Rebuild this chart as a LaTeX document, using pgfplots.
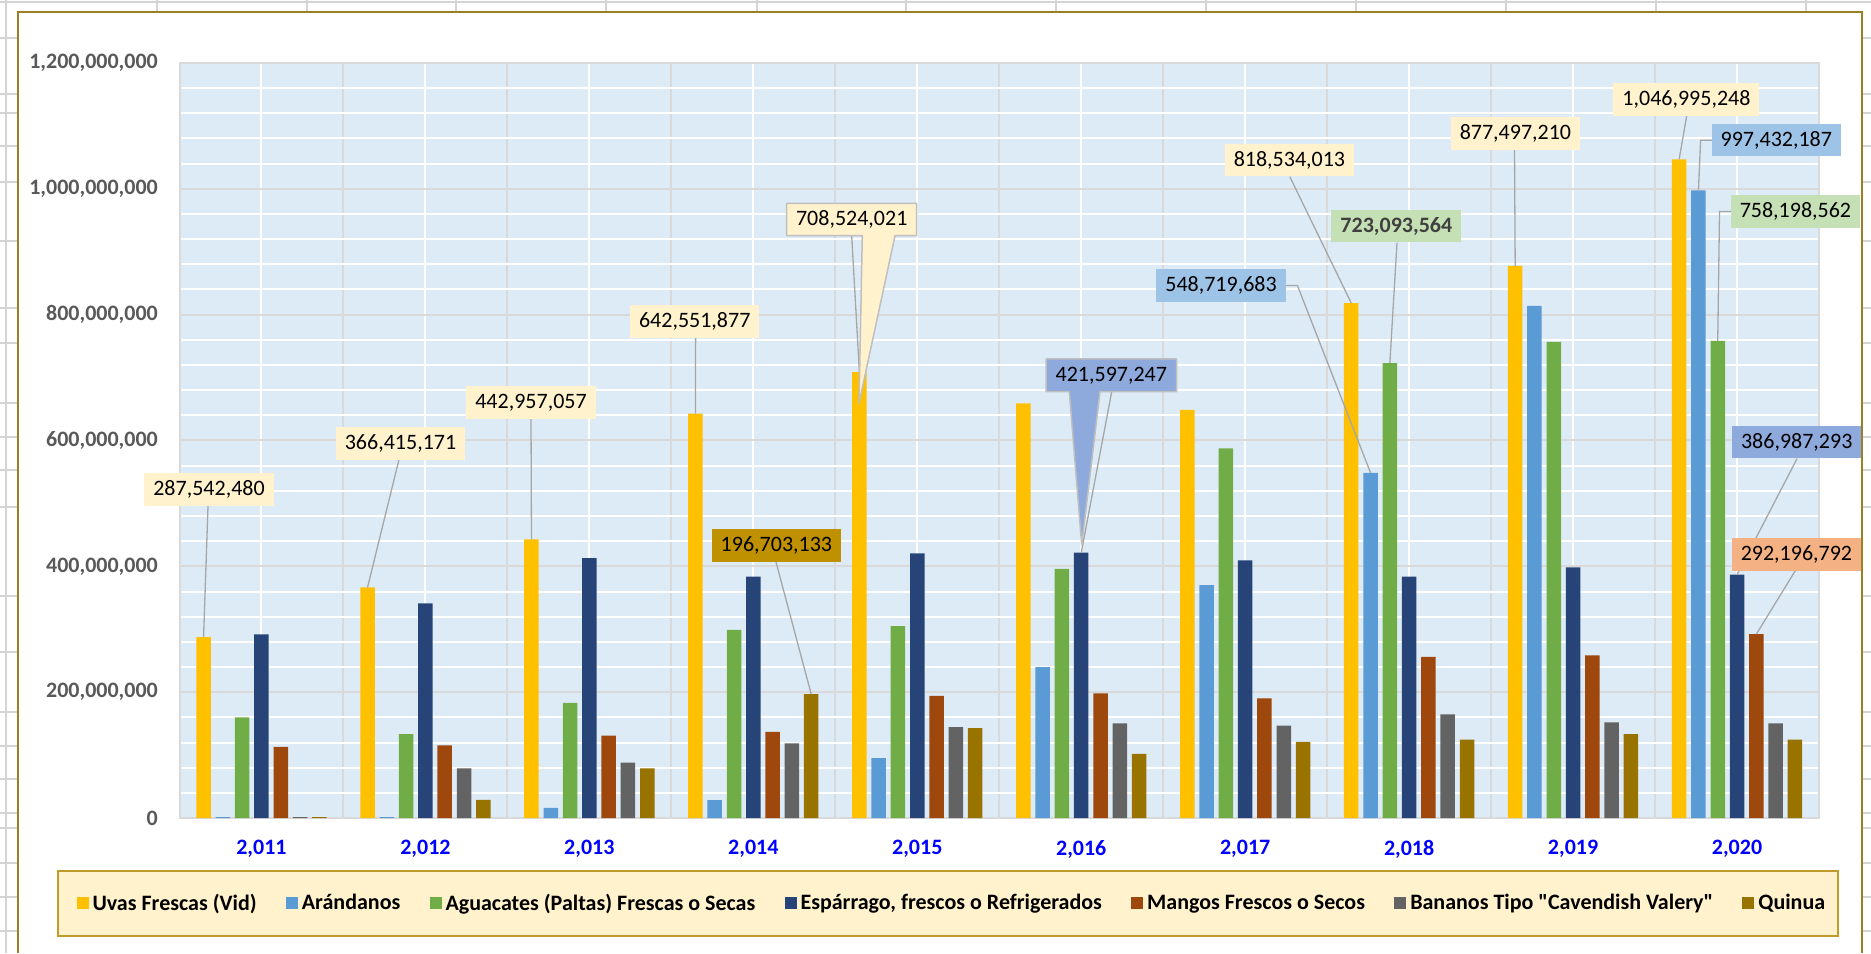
\documentclass[border=0pt]{standalone}
\usepackage{fontspec}
\setmainfont{Carlito}[Ligatures=TeXOff]
\usepackage{pgfplots}
\pgfplotsset{compat=1.18}

\definecolor{cUvas}{HTML}{FFC000}
\definecolor{cAran}{HTML}{5B9BD5}
\definecolor{cAgua}{HTML}{70AD47}
\definecolor{cEspa}{HTML}{264478}
\definecolor{cMang}{HTML}{9E480E}
\definecolor{cBana}{HTML}{636363}
\definecolor{cQuin}{HTML}{997300}
\definecolor{gridgray}{HTML}{D9D9D9}
\definecolor{plotbg}{HTML}{DDEBF7}
\definecolor{ticktext}{HTML}{595959}
\definecolor{tickblue}{HTML}{0000FF}
\definecolor{cellgray}{HTML}{D4D4D4}
\definecolor{chartborder}{HTML}{9C7F22}
\definecolor{legborder}{HTML}{C09A2A}
\definecolor{cream}{HTML}{FFF2CC}
\definecolor{lblgold}{HTML}{BF9000}
\definecolor{lblnavy}{HTML}{8EA9DB}
\definecolor{lblblue}{HTML}{9DC3E6}
\definecolor{lblgreen}{HTML}{C5E0B4}
\definecolor{lblorange}{HTML}{F4B183}
\definecolor{leader}{HTML}{A6A6A6}
\definecolor{callborder}{HTML}{BFBFBF}

\newcommand\lbl{\fontsize{11}{13}\selectfont}

\begin{document}
\begin{tikzpicture}
\path[use as bounding box] (0,0) rectangle (935.5pt,476.5pt);

% sheet and chart frame, in image pixels (y down)
\begin{scope}[x=0.5pt,y=-0.5pt,yshift=476.5pt]
  \fill[white] (0,0) rectangle (1871,953);
  \draw[cellgray, line width=0.8pt] (0,2) -- (1871,2);
  \draw[cellgray, line width=0.8pt] (6,0) -- (6,953);
  \foreach \x in {157,307,456,606,757,906,1056,1206,1356,1506,1656,1806}
    \draw[cellgray, line width=0.8pt] (\x,0) -- (\x,12);
  \foreach \y in {38,94,113,146,182,241,308,343,403,437,470,507,596,652,712,746,779,813,828,863,897,931} {
    \draw[cellgray, line width=0.8pt] (0,\y) -- (18,\y);
    \draw[cellgray, line width=0.8pt] (1862,\y) -- (1871,\y);
  }
  \draw[chartborder, line width=1.1pt] (18,953) -- (18,12) -- (1862,12) -- (1862,953);
  \draw[legborder, fill=cream, line width=1.1pt] (58,871) rectangle (1838,936);
\end{scope}

\begin{axis}[
    at={(89.75pt,67.5pt)}, anchor=south west,
    scale only axis,
    width=819.75pt, height=377.5pt,
    ybar=2.4pt, bar width=7.25pt,
    xmin=-0.5, xmax=9.5,
    ymin=0, ymax=1.2e9,
    scaled y ticks=false,
    xtick={0,...,9},
    xticklabels={{2,011},{2,012},{2,013},{2,014},{2,015},{2,016},{2,017},{2,018},{2,019},{2,020}},
    minor xtick={-0.5,0.5,1.5,2.5,3.5,4.5,5.5,6.5,7.5,8.5,9.5},
    ytick={0,200000000,400000000,600000000,800000000,1000000000,1200000000},
    yticklabels={{0},{200,000,000},{400,000,000},{600,000,000},{800,000,000},{1,000,000,000},{1,200,000,000}},
    minor y tick num=4,
    major tick length=0pt, minor tick length=0pt,
    grid=both,
    major x grid style={white, line width=1pt},
    minor x grid style={gridgray, line width=1pt},
    major y grid style={gridgray, line width=1pt},
    minor y grid style={white, line width=1pt},
    axis line style={gridgray, line width=1pt},
    axis background/.style={fill=plotbg},
    xticklabel style={font=\lbl\bfseries, text=tickblue, yshift=-7.5pt},
    yticklabel style={font=\lbl\bfseries, text=ticktext, xshift=-7.3pt},
    clip=false,
    legend columns=7,
    legend style={draw=none, fill=none, at={(0.4717,-0.1132)}, anchor=center,
      font=\lbl\bfseries,
      /tikz/every even column/.append style={column sep=12.6pt}},
    sq/.style={legend image code/.code={\fill[##1, draw=none] (0pt,-3pt) rectangle (6pt,3pt);}},
]
\addplot[fill=cUvas, draw=none, sq] coordinates {(0,287542480) (1,366415171) (2,442957057) (3,642551877) (4,708524021) (5,659000000) (6,648500000) (7,818534013) (8,877497210) (9,1046995248)};
\addlegendentry{Uvas Frescas (Vid)}
\addplot[fill=cAran, draw=none, sq] coordinates {(0,1500000) (1,1500000) (2,16000000) (3,28600000) (4,95000000) (5,240000000) (6,370000000) (7,548719683) (8,813800000) (9,997432187)};
\addlegendentry{Arándanos}
\addplot[fill=cAgua, draw=none, sq] coordinates {(0,160000000) (1,133500000) (2,183000000) (3,299000000) (4,305000000) (5,396000000) (6,587600000) (7,723093564) (8,756600000) (9,758198562)};
\addlegendentry{Aguacates (Paltas) Frescas o Secas}
\addplot[fill=cEspa, draw=none, sq] coordinates {(0,292000000) (1,341000000) (2,413000000) (3,383500000) (4,420700000) (5,421597247) (6,409600000) (7,383500000) (8,398400000) (9,386987293)};
\addlegendentry{Espárrago, frescos o Refrigerados}
\addplot[fill=cMang, draw=none, sq] coordinates {(0,113000000) (1,115500000) (2,131000000) (3,137000000) (4,194000000) (5,198000000) (6,190000000) (7,256000000) (8,258500000) (9,292196792)};
\addlegendentry{Mangos Frescos o Secos}
\addplot[fill=cBana, draw=none, sq] coordinates {(0,1500000) (1,79000000) (2,88000000) (3,118700000) (4,144600000) (5,150500000) (6,146700000) (7,164800000) (8,152000000) (9,150500000)};
\addlegendentry{Bananos Tipo "Cavendish Valery"}
\addplot[fill=cQuin, draw=none, sq] coordinates {(0,1500000) (1,29000000) (2,79000000) (3,196703133) (4,143000000) (5,102000000) (6,120800000) (7,124500000) (8,133500000) (9,124500000)};
\addlegendentry{Quinua}

% bar tops for the callouts (bar pitch 9.65pt)
\coordinate (u0) at ([xshift=-28.95pt]axis cs:0,287542480);
\coordinate (u1) at ([xshift=-28.95pt]axis cs:1,366415171);
\coordinate (u2) at ([xshift=-28.95pt]axis cs:2,442957057);
\coordinate (u3) at ([xshift=-28.95pt]axis cs:3,642551877);
\coordinate (u4) at ([xshift=-28.95pt]axis cs:4,708524021);
\coordinate (q3) at ([xshift=28.95pt]axis cs:3,196703133);
\coordinate (e5) at (axis cs:5,421597247);
\coordinate (u7) at ([xshift=-28.95pt]axis cs:7,818534013);
\coordinate (a7) at ([xshift=-19.3pt]axis cs:7,548719683);
\coordinate (g7) at ([xshift=-9.65pt]axis cs:7,723093564);
\coordinate (u8) at ([xshift=-28.95pt]axis cs:8,877497210);
\coordinate (u9) at ([xshift=-28.95pt]axis cs:9,1046995248);
\coordinate (a9) at ([xshift=-19.3pt]axis cs:9,997432187);
\coordinate (g9) at ([xshift=-9.65pt]axis cs:9,758198562);
\coordinate (e9) at (axis cs:9,386987293);
\coordinate (m9) at ([xshift=9.65pt]axis cs:9,292196792);
\end{axis}

% data callouts, in image pixels (y down)
\begin{scope}[x=0.5pt,y=-0.5pt,yshift=476.5pt,
    lab/.style={inner xsep=4.5pt, inner ysep=0pt, minimum height=16.2pt, font=\lbl, text=black},
    ld/.style={leader, line width=0.65pt}]
  % leader lines
  \draw[ld] (208,506) -- (u0);
  \draw[ld] (399,459.5) -- (u1);
  \draw[ld] (531,418.5) -- (u2);
  \draw[ld] (695.6,337.5) -- (u3);
  \draw[ld] (851.7,235.7) -- (u4);
  \draw[ld] (776,562) -- (q3);
  \draw[ld] (1111.7,391.7) -- (e5);
  \draw[ld] (1285.4,285.5) -- (1297.4,285.5) -- (a7);
  \draw[ld] (1289.8,176.7) -- (u7);
  \draw[ld] (1397,242.7) -- (g7);
  \draw[ld] (1514.5,149.7) -- (u8);
  \draw[ld] (1686.7,115.7) -- (u9);
  \draw[ld] (1711.9,140.3) -- (1700.6,140.3) -- (a9);
  \draw[ld] (1731.2,211.5) -- (1719.5,211.5) -- (g9);
  \draw[ld] (1797,458.7) -- (e9);
  \draw[ld] (1795.3,570.7) -- (m9);
  % wedge callouts
  \filldraw[fill=cream, draw=callborder, line width=0.75pt, line join=round]
    (786.7,203.3) -- (916.7,203.3) -- (916.7,235.7) -- (895,235.7) -- (859,403.3)
    -- (862.3,235.7) -- (786.7,235.7) -- cycle;
  \node[font=\lbl] at (851.7,219.5) {708,524,021};
  \filldraw[fill=lblnavy, draw=callborder, line width=0.75pt, line join=round]
    (1046,359) -- (1176.7,359) -- (1176.7,391.7) -- (1100,391.7) -- (1081.7,545)
    -- (1069.3,391.7) -- (1046,391.7) -- cycle;
  \node[font=\lbl] at (1111.3,375.3) {421,597,247};
  % plain boxes
  \node[lab, fill=cream] at (209,489.5) {287,542,480};
  \node[lab, fill=cream] at (400.5,443.5) {366,415,171};
  \node[lab, fill=cream] at (531,402.5) {442,957,057};
  \node[lab, fill=cream] at (694.7,321.5) {642,551,877};
  \node[lab, fill=lblgold] at (776.4,545.5) {196,703,133};
  \node[lab, fill=lblblue] at (1221,285.5) {548,719,683};
  \node[lab, fill=cream] at (1289.4,160.3) {818,534,013};
  \node[lab, fill=lblgreen, text=black!75, font=\lbl\bfseries] at (1396.3,226.3) {723,093,564};
  \node[lab, fill=cream] at (1515.4,133.5) {877,497,210};
  \node[lab, fill=cream] at (1686.4,99.5) {1,046,995,248};
  \node[lab, fill=lblblue] at (1776.3,140.3) {997,432,187};
  \node[lab, fill=lblgreen] at (1795.4,211.5) {758,198,562};
  \node[lab, fill=lblnavy] at (1796.7,442.3) {386,987,293};
  \node[lab, fill=lblorange] at (1796.4,554.5) {292,196,792};
\end{scope}
\end{tikzpicture}
\end{document}
